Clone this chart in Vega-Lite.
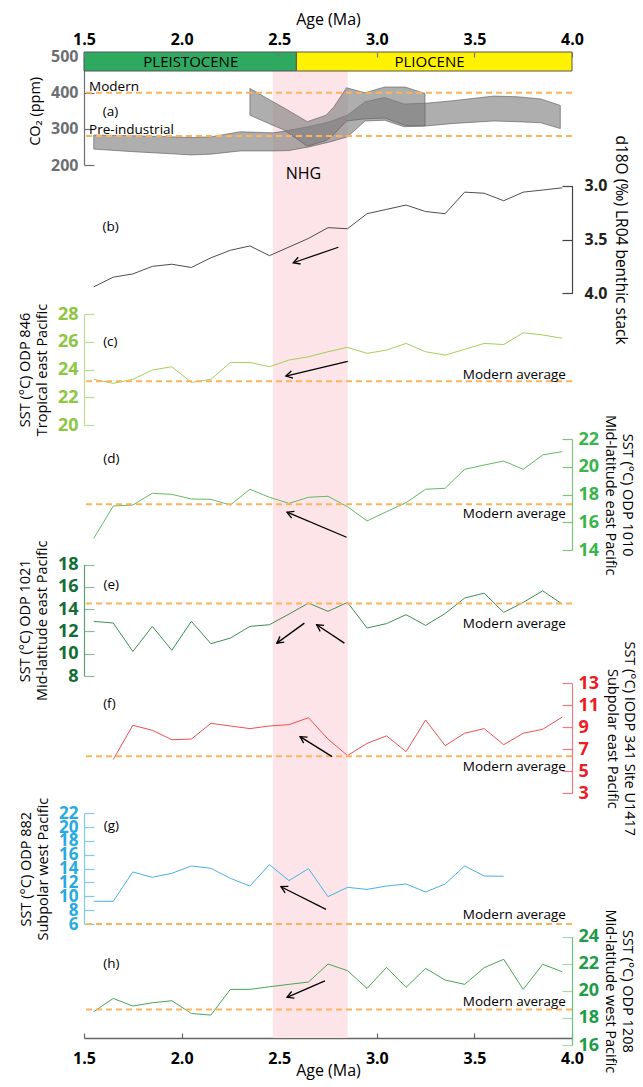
{
"$schema": "https://vega.github.io/schema/vega-lite/v6.json",
"width": 488, "height": 986,
"autosize": {"type": "none"},
"padding": {"left": 84, "top": 52, "right": 71, "bottom": 49},
"config": {"view": {"stroke": null}, "font": "Open Sans",
  "axis": {"grid": false, "labelOverlap": false, "labelFlush": false, "labelBound": false, "titleFontWeight": "normal", "titleColor": "#000", "titleFont": "Open Sans", "labelFont": "Open Sans", "labelFontWeight": "bold", "titleFontSize": 14.5, "titleLineHeight": 17, "tickSize": -10, "labelPadding": 16, "titlePadding": 8, "domainWidth": 1.2, "tickWidth": 1.2}},
"datasets": {
 "nhg": [{"start": 2.467, "end": 2.851}],
 "epochs": [{"name": "PLEISTOCENE", "start": 1.5, "end": 2.588, "mid": 2.047, "lo": 0, "hi": 1, "c": 0.5}, {"name": "PLIOCENE", "start": 2.588, "end": 4.0, "mid": 3.27, "lo": 0, "hi": 1, "c": 0.5}],
 "co2A": [{"age":1.55,"lo":244,"hi":283},{"age":1.75,"lo":237,"hi":281},{"age":1.95,"lo":231,"hi":278},{"age":2.05,"lo":228,"hi":276},{"age":2.15,"lo":230,"hi":278},{"age":2.30,"lo":239,"hi":292},{"age":2.47,"lo":239,"hi":289},{"age":2.55,"lo":240,"hi":296},{"age":2.65,"lo":250,"hi":306},{"age":2.76,"lo":264,"hi":320},{"age":2.85,"lo":278,"hi":338},{"age":2.94,"lo":322,"hi":375},{"age":3.04,"lo":324,"hi":387},{"age":3.14,"lo":306,"hi":369},{"age":3.25,"lo":308,"hi":371},{"age":3.39,"lo":315,"hi":378},{"age":3.60,"lo":322,"hi":391},{"age":3.72,"lo":320,"hi":389},{"age":3.84,"lo":317,"hi":383},{"age":3.94,"lo":301,"hi":365}],
 "co2B": [{"age":2.35,"lo":338,"hi":412},{"age":2.45,"lo":314,"hi":381},{"age":2.525,"lo":297,"hi":358},{"age":2.644,"lo":252,"hi":320},{"age":2.74,"lo":268,"hi":338},{"age":2.78,"lo":285,"hi":361},{"age":2.845,"lo":322,"hi":414},{"age":2.94,"lo":328,"hi":400},{"age":3.04,"lo":330,"hi":416},{"age":3.144,"lo":310,"hi":416},{"age":3.247,"lo":308,"hi":398}],
 "d18o": [{"age":1.55,"v":3.94},{"age":1.65,"v":3.85},{"age":1.75,"v":3.82},{"age":1.85,"v":3.75},{"age":1.95,"v":3.73},{"age":2.05,"v":3.76},{"age":2.15,"v":3.67},{"age":2.25,"v":3.60},{"age":2.35,"v":3.56},{"age":2.45,"v":3.65},{"age":2.55,"v":3.57},{"age":2.65,"v":3.49},{"age":2.75,"v":3.39},{"age":2.85,"v":3.40},{"age":2.95,"v":3.26},{"age":3.05,"v":3.22},{"age":3.15,"v":3.18},{"age":3.25,"v":3.24},{"age":3.35,"v":3.26},{"age":3.45,"v":3.06},{"age":3.55,"v":3.07},{"age":3.65,"v":3.14},{"age":3.75,"v":3.06},{"age":3.85,"v":3.04},{"age":3.95,"v":3.02}],
 "c846": [{"age":1.55,"v":23.29},{"age":1.65,"v":23.0},{"age":1.75,"v":23.29},{"age":1.85,"v":23.96},{"age":1.95,"v":24.2},{"age":2.05,"v":23.07},{"age":2.15,"v":23.29},{"age":2.25,"v":24.51},{"age":2.35,"v":24.51},{"age":2.45,"v":24.2},{"age":2.55,"v":24.68},{"age":2.65,"v":24.92},{"age":2.75,"v":25.28},{"age":2.85,"v":25.6},{"age":2.95,"v":25.16},{"age":3.05,"v":25.4},{"age":3.15,"v":25.88},{"age":3.25,"v":25.28},{"age":3.35,"v":25.04},{"age":3.45,"v":25.45},{"age":3.55,"v":25.88},{"age":3.65,"v":25.8},{"age":3.75,"v":26.65},{"age":3.85,"v":26.49},{"age":3.95,"v":26.25}],
 "d1010": [{"age":1.55,"v":14.84},{"age":1.65,"v":17.18},{"age":1.75,"v":17.25},{"age":1.85,"v":18.1},{"age":1.95,"v":18.02},{"age":2.05,"v":17.69},{"age":2.15,"v":17.66},{"age":2.25,"v":17.25},{"age":2.35,"v":18.39},{"age":2.45,"v":17.81},{"age":2.55,"v":17.37},{"age":2.65,"v":17.81},{"age":2.75,"v":17.88},{"age":2.85,"v":17.13},{"age":2.95,"v":16.1},{"age":3.05,"v":16.77},{"age":3.15,"v":17.42},{"age":3.25,"v":18.39},{"age":3.35,"v":18.46},{"age":3.45,"v":19.83},{"age":3.55,"v":20.14},{"age":3.65,"v":20.43},{"age":3.75,"v":19.83},{"age":3.85,"v":20.87},{"age":3.95,"v":21.11}],
 "e1021": [{"age":1.55,"v":12.9},{"age":1.65,"v":12.75},{"age":1.75,"v":10.2},{"age":1.85,"v":12.45},{"age":1.95,"v":10.3},{"age":2.05,"v":12.9},{"age":2.15,"v":10.9},{"age":2.25,"v":11.4},{"age":2.35,"v":12.45},{"age":2.45,"v":12.6},{"age":2.55,"v":13.55},{"age":2.65,"v":14.54},{"age":2.75,"v":13.8},{"age":2.85,"v":14.6},{"age":2.95,"v":12.3},{"age":3.05,"v":12.7},{"age":3.15,"v":13.5},{"age":3.25,"v":12.54},{"age":3.35,"v":13.6},{"age":3.45,"v":14.99},{"age":3.55,"v":15.43},{"age":3.65,"v":13.7},{"age":3.75,"v":14.6},{"age":3.85,"v":15.64},{"age":3.95,"v":14.45}],
 "f1417": [{"age":1.65,"v":6.07},{"age":1.75,"v":9.18},{"age":1.85,"v":8.73},{"age":1.95,"v":7.87},{"age":2.05,"v":7.93},{"age":2.15,"v":9.36},{"age":2.25,"v":9.12},{"age":2.35,"v":8.88},{"age":2.45,"v":9.12},{"age":2.55,"v":9.24},{"age":2.65,"v":9.87},{"age":2.75,"v":7.93},{"age":2.85,"v":6.43},{"age":2.95,"v":7.54},{"age":3.05,"v":8.22},{"age":3.15,"v":6.79},{"age":3.25,"v":9.66},{"age":3.35,"v":7.33},{"age":3.45,"v":8.46},{"age":3.55,"v":8.88},{"age":3.65,"v":7.42},{"age":3.75,"v":8.46},{"age":3.85,"v":8.82},{"age":3.95,"v":9.93}],
 "g882": [{"age":1.55,"v":9.28},{"age":1.65,"v":9.28},{"age":1.75,"v":13.52},{"age":1.85,"v":12.75},{"age":1.95,"v":13.33},{"age":2.05,"v":14.39},{"age":2.15,"v":14.05},{"age":2.25,"v":12.6},{"age":2.35,"v":11.49},{"age":2.45,"v":14.58},{"age":2.55,"v":12.27},{"age":2.65,"v":14.0},{"age":2.75,"v":9.95},{"age":2.85,"v":11.3},{"age":2.95,"v":11.0},{"age":3.05,"v":11.49},{"age":3.15,"v":11.78},{"age":3.25,"v":10.63},{"age":3.35,"v":11.78},{"age":3.45,"v":14.39},{"age":3.55,"v":12.94},{"age":3.65,"v":12.89}],
 "h1208": [{"age":1.55,"v":18.46},{"age":1.65,"v":19.44},{"age":1.75,"v":18.88},{"age":1.85,"v":19.12},{"age":1.95,"v":19.27},{"age":2.05,"v":18.33},{"age":2.15,"v":18.21},{"age":2.25,"v":20.11},{"age":2.35,"v":20.11},{"age":2.45,"v":20.3},{"age":2.55,"v":20.48},{"age":2.65,"v":20.65},{"age":2.75,"v":21.98},{"age":2.85,"v":21.49},{"age":2.95,"v":20.18},{"age":3.05,"v":21.73},{"age":3.15,"v":20.26},{"age":3.25,"v":21.66},{"age":3.35,"v":20.8},{"age":3.45,"v":20.48},{"age":3.55,"v":21.71},{"age":3.65,"v":22.33},{"age":3.75,"v":20.11},{"age":3.85,"v":21.96},{"age":3.95,"v":21.41}],
 "modern": [{"p":"a","v":400},{"p":"a","v":280},{"p":"c","v":23.15},{"p":"d","v":17.3},{"p":"e","v":14.5},{"p":"f","v":6.37},{"p":"g","v":6.0},{"p":"h","v":18.63}],
 "notes": [{"p":"c","age":3.969,"v":23.6,"t":"Modern average"},{"p":"d","age":3.969,"v":16.6,"t":"Modern average"},{"p":"e","age":3.969,"v":12.68,"t":"Modern average"},{"p":"f","age":3.969,"v":5.42,"t":"Modern average"},{"p":"g","age":3.969,"v":7.3,"t":"Modern average"},{"p":"h","age":3.969,"v":19.2,"t":"Modern average"}],
 "tags": [{"p":"a","age":1.636,"v":347,"t":"(a)"},{"p":"b","age":1.636,"v":3.387,"t":"(b)"},{"p":"c","age":1.635,"v":26.0,"t":"(c)"},{"p":"d","age":1.64,"v":20.55,"t":"(d)"},{"p":"e","age":1.64,"v":16.12,"t":"(e)"},{"p":"f","age":1.63,"v":11.12,"t":"(f)"},{"p":"g","age":1.64,"v":20.16,"t":"(g)"},{"p":"h","age":1.64,"v":21.98,"t":"(h)"}],
 "co2notes": [{"age":1.526,"v":416,"t":"Modern"},{"age":1.526,"v":296.7,"t":"Pre-industrial"}],
 "arrows": [{"p":"b","x1":2.803,"y1":3.572,"x2":2.572,"y2":3.716,"ang":161},{"p":"c","x1":2.851,"y1":24.59,"x2":2.534,"y2":23.53,"ang":167},{"p":"d","x1":2.845,"y1":14.92,"x2":2.540,"y2":16.73,"ang":203},{"p":"e","x1":2.629,"y1":12.74,"x2":2.488,"y2":10.95,"ang":144},{"p":"e","x1":2.834,"y1":10.95,"x2":2.692,"y2":12.59,"ang":213},{"p":"f","x1":2.771,"y1":6.33,"x2":2.607,"y2":8.15,"ang":212},{"p":"g","x1":2.740,"y1":8.12,"x2":2.509,"y2":11.39,"ang":207},{"p":"h","x1":2.734,"y1":20.73,"x2":2.540,"y2":19.52,"ang":157}]
},
"layer": [
 {"data": {"name": "nhg"}, "mark": {"type": "rect", "color": "#fce4e8"},
  "encoding": {"x": {"field": "start", "type": "quantitative", "scale": {"domain": [1.5, 4], "nice": false, "zero": false},
     "axis": {"orient": "bottom", "values": [1.5, 2, 2.5, 3, 3.5, 4], "format": ".1f", "title": "Age (Ma)", "titleFontSize": 16, "labelFontSize": 16, "labelColor": "#000", "domainColor": "#666", "tickColor": "#666", "domainWidth": 1.5, "tickSize": -5, "labelPadding": 17, "titlePadding": -4}},
   "x2": {"field": "end"}}},
 {"layer": [
   {"data": {"name": "co2A"}, "mark": {"type": "area", "color": "#7c7c7c", "fillOpacity": 0.62, "stroke": "#5e5e5e", "strokeWidth": 0.8, "strokeOpacity": 0.8},
    "encoding": {"x": {"field": "age", "type": "quantitative", "scale": {"domain": [1.5, 4], "nice": false}, "axis": null},
     "y": {"field": "lo", "type": "quantitative", "scale": {"domain": [200, 500], "range": [113, 4.7], "nice": false, "zero": false},
       "axis": {"orient": "left", "values": [200, 300, 400, 500], "format": "d", "title": "CO₂ (ppm)", "labelColor": "#6d6e71", "labelFontSize": 16, "domainColor": "#6d6e71", "tickColor": "#6d6e71"}},
     "y2": {"field": "hi"}}},
   {"data": {"name": "co2B"}, "mark": {"type": "area", "color": "#7c7c7c", "fillOpacity": 0.62, "stroke": "#5e5e5e", "strokeWidth": 0.8, "strokeOpacity": 0.8},
    "encoding": {"x": {"field": "age", "type": "quantitative", "scale": {"domain": [1.5, 4], "nice": false}, "axis": null},
     "y": {"field": "lo", "type": "quantitative", "scale": {"domain": [200, 500], "range": [113, 4.7], "nice": false, "zero": false}},
     "y2": {"field": "hi"}}},
   {"data": {"name": "modern"}, "transform": [{"filter": "datum.p === 'a'"}], "mark": {"type": "rule", "color": "#fbb45c", "strokeWidth": 2, "strokeDash": [6, 4]},
    "encoding": {"y": {"field": "v", "type": "quantitative", "scale": {"domain": [200, 500], "range": [113, 4.7], "nice": false, "zero": false}}}},
   {"data": {"name": "co2notes"}, "mark": {"type": "text", "align": "left", "baseline": "middle", "fontSize": 13.5, "color": "#000"},
    "encoding": {"x": {"field": "age", "type": "quantitative", "scale": {"domain": [1.5, 4], "nice": false}, "axis": null},
     "y": {"field": "v", "type": "quantitative", "scale": {"domain": [200, 500], "range": [113, 4.7], "nice": false, "zero": false}}, "text": {"field": "t"}}},
   {"data": {"name": "tags"}, "transform": [{"filter": "datum.p === 'a'"}], "mark": {"type": "text", "align": "center", "baseline": "middle", "fontSize": 13.5, "color": "#000"},
    "encoding": {"x": {"field": "age", "type": "quantitative", "scale": {"domain": [1.5, 4], "nice": false}, "axis": null},
     "y": {"field": "v", "type": "quantitative", "scale": {"domain": [200, 500], "range": [113, 4.7], "nice": false, "zero": false}}, "text": {"field": "t"}}},
   {"data": {"values": [{"age": 2.624, "v": 175, "t": "NHG"}]}, "mark": {"type": "text", "align": "center", "baseline": "middle", "fontSize": 16, "color": "#000"},
    "encoding": {"x": {"field": "age", "type": "quantitative", "scale": {"domain": [1.5, 4], "nice": false}, "axis": null},
     "y": {"field": "v", "type": "quantitative", "scale": {"domain": [200, 500], "range": [113, 4.7], "nice": false, "zero": false}}, "text": {"field": "t"}}}
 ]},
 {"layer": [
   {"data": {"name": "d18o"}, "mark": {"type": "line", "color": "#3a3a3a", "strokeWidth": 0.9},
    "encoding": {"x": {"field": "age", "type": "quantitative", "scale": {"domain": [1.5, 4], "nice": false}, "axis": null},
     "y": {"field": "v", "type": "quantitative", "scale": {"domain": [3, 4], "range": [133.7, 241.3], "nice": false, "zero": false},
       "axis": {"orient": "right", "values": [3, 3.5, 4], "format": ".1f", "title": "d18O (‰) LR04 benthic stack", "titleFontSize": 15.5, "labelColor": "#231f20", "labelFontSize": 16, "domainColor": "#444", "tickColor": "#444", "labelPadding": 22, "titlePadding": 6}}}},
   {"data": {"name": "tags"}, "transform": [{"filter": "datum.p === 'b'"}], "mark": {"type": "text", "align": "center", "baseline": "middle", "fontSize": 13.5, "color": "#000"},
    "encoding": {"x": {"field": "age", "type": "quantitative", "scale": {"domain": [1.5, 4], "nice": false}, "axis": null},
     "y": {"field": "v", "type": "quantitative", "scale": {"domain": [3, 4], "range": [133.7, 241.3], "nice": false, "zero": false}}, "text": {"field": "t"}}},
   {"data": {"name": "arrows"}, "transform": [{"filter": "datum.p === 'b'"}], "mark": {"type": "rule", "color": "#000", "strokeWidth": 1.3},
    "encoding": {"x": {"field": "x1", "type": "quantitative", "scale": {"domain": [1.5, 4], "nice": false}, "axis": null},
     "y": {"field": "y1", "type": "quantitative", "scale": {"domain": [3, 4], "range": [133.7, 241.3], "nice": false, "zero": false}}, "x2": {"field": "x2"}, "y2": {"field": "y2"}}},
   {"data": {"name": "arrows"}, "transform": [{"filter": "datum.p === 'b'"}], "mark": {"type": "point", "shape": "M-1,-0.55L0,0L-1,0.55", "filled": false, "stroke": "#000", "strokeWidth": 1.3, "size": 170, "opacity": 1},
    "encoding": {"x": {"field": "x2", "type": "quantitative", "scale": {"domain": [1.5, 4], "nice": false}, "axis": null},
     "y": {"field": "y2", "type": "quantitative", "scale": {"domain": [3, 4], "range": [133.7, 241.3], "nice": false, "zero": false}}, "angle": {"field": "ang", "type": "quantitative", "scale": null}}}
 ]},
 {"layer": [
   {"data": {"name": "c846"}, "mark": {"type": "line", "color": "#a5cf5b", "strokeWidth": 1},
    "encoding": {"x": {"field": "age", "type": "quantitative", "scale": {"domain": [1.5, 4], "nice": false}, "axis": null},
     "y": {"field": "v", "type": "quantitative", "scale": {"domain": [20, 28], "range": [373, 262], "nice": false, "zero": false},
       "axis": {"orient": "left", "values": [20, 22, 24, 26, 28], "format": "d", "title": ["SST (°C) ODP 846", "Tropical east Pacific"], "labelColor": "#8dc63f", "labelFontSize": 18, "domainColor": "#bcdc8f", "tickColor": "#bcdc8f"}}}},
   {"data": {"name": "modern"}, "transform": [{"filter": "datum.p === 'c'"}], "mark": {"type": "rule", "color": "#fbb45c", "strokeWidth": 2, "strokeDash": [6, 4]},
    "encoding": {"y": {"field": "v", "type": "quantitative", "scale": {"domain": [20, 28], "range": [373, 262], "nice": false, "zero": false}}}},
   {"data": {"name": "notes"}, "transform": [{"filter": "datum.p === 'c'"}], "mark": {"type": "text", "align": "right", "baseline": "middle", "fontSize": 13.5, "color": "#000"},
    "encoding": {"x": {"field": "age", "type": "quantitative", "scale": {"domain": [1.5, 4], "nice": false}, "axis": null},
     "y": {"field": "v", "type": "quantitative", "scale": {"domain": [20, 28], "range": [373, 262], "nice": false, "zero": false}}, "text": {"field": "t"}}},
   {"data": {"name": "tags"}, "transform": [{"filter": "datum.p === 'c'"}], "mark": {"type": "text", "align": "center", "baseline": "middle", "fontSize": 13.5, "color": "#000"},
    "encoding": {"x": {"field": "age", "type": "quantitative", "scale": {"domain": [1.5, 4], "nice": false}, "axis": null},
     "y": {"field": "v", "type": "quantitative", "scale": {"domain": [20, 28], "range": [373, 262], "nice": false, "zero": false}}, "text": {"field": "t"}}},
   {"data": {"name": "arrows"}, "transform": [{"filter": "datum.p === 'c'"}], "mark": {"type": "rule", "color": "#000", "strokeWidth": 1.3},
    "encoding": {"x": {"field": "x1", "type": "quantitative", "scale": {"domain": [1.5, 4], "nice": false}, "axis": null},
     "y": {"field": "y1", "type": "quantitative", "scale": {"domain": [20, 28], "range": [373, 262], "nice": false, "zero": false}}, "x2": {"field": "x2"}, "y2": {"field": "y2"}}},
   {"data": {"name": "arrows"}, "transform": [{"filter": "datum.p === 'c'"}], "mark": {"type": "point", "shape": "M-1,-0.55L0,0L-1,0.55", "filled": false, "stroke": "#000", "strokeWidth": 1.3, "size": 170, "opacity": 1},
    "encoding": {"x": {"field": "x2", "type": "quantitative", "scale": {"domain": [1.5, 4], "nice": false}, "axis": null},
     "y": {"field": "y2", "type": "quantitative", "scale": {"domain": [20, 28], "range": [373, 262], "nice": false, "zero": false}}, "angle": {"field": "ang", "type": "quantitative", "scale": null}}}
 ]},
 {"layer": [
   {"data": {"name": "d1010"}, "mark": {"type": "line", "color": "#62bb5f", "strokeWidth": 1},
    "encoding": {"x": {"field": "age", "type": "quantitative", "scale": {"domain": [1.5, 4], "nice": false}, "axis": null},
     "y": {"field": "v", "type": "quantitative", "scale": {"domain": [14, 22], "range": [498, 387.3], "nice": false, "zero": false},
       "axis": {"orient": "right", "values": [14, 16, 18, 20, 22], "format": "d", "title": ["SST (°C) ODP 1010", "Mid-latitude east Pacific"], "labelColor": "#39b54a", "labelFontSize": 18, "domainColor": "#7cc576", "tickColor": "#7cc576", "titlePadding": 4}}}},
   {"data": {"name": "modern"}, "transform": [{"filter": "datum.p === 'd'"}], "mark": {"type": "rule", "color": "#fbb45c", "strokeWidth": 2, "strokeDash": [6, 4]},
    "encoding": {"y": {"field": "v", "type": "quantitative", "scale": {"domain": [14, 22], "range": [498, 387.3], "nice": false, "zero": false}}}},
   {"data": {"name": "notes"}, "transform": [{"filter": "datum.p === 'd'"}], "mark": {"type": "text", "align": "right", "baseline": "middle", "fontSize": 13.5, "color": "#000"},
    "encoding": {"x": {"field": "age", "type": "quantitative", "scale": {"domain": [1.5, 4], "nice": false}, "axis": null},
     "y": {"field": "v", "type": "quantitative", "scale": {"domain": [14, 22], "range": [498, 387.3], "nice": false, "zero": false}}, "text": {"field": "t"}}},
   {"data": {"name": "tags"}, "transform": [{"filter": "datum.p === 'd'"}], "mark": {"type": "text", "align": "center", "baseline": "middle", "fontSize": 13.5, "color": "#000"},
    "encoding": {"x": {"field": "age", "type": "quantitative", "scale": {"domain": [1.5, 4], "nice": false}, "axis": null},
     "y": {"field": "v", "type": "quantitative", "scale": {"domain": [14, 22], "range": [498, 387.3], "nice": false, "zero": false}}, "text": {"field": "t"}}},
   {"data": {"name": "arrows"}, "transform": [{"filter": "datum.p === 'd'"}], "mark": {"type": "rule", "color": "#000", "strokeWidth": 1.3},
    "encoding": {"x": {"field": "x1", "type": "quantitative", "scale": {"domain": [1.5, 4], "nice": false}, "axis": null},
     "y": {"field": "y1", "type": "quantitative", "scale": {"domain": [14, 22], "range": [498, 387.3], "nice": false, "zero": false}}, "x2": {"field": "x2"}, "y2": {"field": "y2"}}},
   {"data": {"name": "arrows"}, "transform": [{"filter": "datum.p === 'd'"}], "mark": {"type": "point", "shape": "M-1,-0.55L0,0L-1,0.55", "filled": false, "stroke": "#000", "strokeWidth": 1.3, "size": 170, "opacity": 1},
    "encoding": {"x": {"field": "x2", "type": "quantitative", "scale": {"domain": [1.5, 4], "nice": false}, "axis": null},
     "y": {"field": "y2", "type": "quantitative", "scale": {"domain": [14, 22], "range": [498, 387.3], "nice": false, "zero": false}}, "angle": {"field": "ang", "type": "quantitative", "scale": null}}}
 ]},
 {"layer": [
   {"data": {"name": "e1021"}, "mark": {"type": "line", "color": "#3f8f55", "strokeWidth": 1},
    "encoding": {"x": {"field": "age", "type": "quantitative", "scale": {"domain": [1.5, 4], "nice": false}, "axis": null},
     "y": {"field": "v", "type": "quantitative", "scale": {"domain": [8, 18], "range": [624, 512.5], "nice": false, "zero": false},
       "axis": {"orient": "left", "values": [8, 10, 12, 14, 16, 18], "format": "d", "title": ["SST (°C) ODP 1021", "Mid-latitude east Pacific"], "labelColor": "#146c37", "labelFontSize": 18, "domainColor": "#5e9e73", "tickColor": "#8cbc9a"}}}},
   {"data": {"name": "modern"}, "transform": [{"filter": "datum.p === 'e'"}], "mark": {"type": "rule", "color": "#fbb45c", "strokeWidth": 2, "strokeDash": [6, 4]},
    "encoding": {"y": {"field": "v", "type": "quantitative", "scale": {"domain": [8, 18], "range": [624, 512.5], "nice": false, "zero": false}}}},
   {"data": {"name": "notes"}, "transform": [{"filter": "datum.p === 'e'"}], "mark": {"type": "text", "align": "right", "baseline": "middle", "fontSize": 13.5, "color": "#000"},
    "encoding": {"x": {"field": "age", "type": "quantitative", "scale": {"domain": [1.5, 4], "nice": false}, "axis": null},
     "y": {"field": "v", "type": "quantitative", "scale": {"domain": [8, 18], "range": [624, 512.5], "nice": false, "zero": false}}, "text": {"field": "t"}}},
   {"data": {"name": "tags"}, "transform": [{"filter": "datum.p === 'e'"}], "mark": {"type": "text", "align": "center", "baseline": "middle", "fontSize": 13.5, "color": "#000"},
    "encoding": {"x": {"field": "age", "type": "quantitative", "scale": {"domain": [1.5, 4], "nice": false}, "axis": null},
     "y": {"field": "v", "type": "quantitative", "scale": {"domain": [8, 18], "range": [624, 512.5], "nice": false, "zero": false}}, "text": {"field": "t"}}},
   {"data": {"name": "arrows"}, "transform": [{"filter": "datum.p === 'e'"}], "mark": {"type": "rule", "color": "#000", "strokeWidth": 1.3},
    "encoding": {"x": {"field": "x1", "type": "quantitative", "scale": {"domain": [1.5, 4], "nice": false}, "axis": null},
     "y": {"field": "y1", "type": "quantitative", "scale": {"domain": [8, 18], "range": [624, 512.5], "nice": false, "zero": false}}, "x2": {"field": "x2"}, "y2": {"field": "y2"}}},
   {"data": {"name": "arrows"}, "transform": [{"filter": "datum.p === 'e'"}], "mark": {"type": "point", "shape": "M-1,-0.55L0,0L-1,0.55", "filled": false, "stroke": "#000", "strokeWidth": 1.3, "size": 170, "opacity": 1},
    "encoding": {"x": {"field": "x2", "type": "quantitative", "scale": {"domain": [1.5, 4], "nice": false}, "axis": null},
     "y": {"field": "y2", "type": "quantitative", "scale": {"domain": [8, 18], "range": [624, 512.5], "nice": false, "zero": false}}, "angle": {"field": "ang", "type": "quantitative", "scale": null}}}
 ]},
 {"layer": [
   {"data": {"name": "f1417"}, "mark": {"type": "line", "color": "#ef4f55", "strokeWidth": 1},
    "encoding": {"x": {"field": "age", "type": "quantitative", "scale": {"domain": [1.5, 4], "nice": false}, "axis": null},
     "y": {"field": "v", "type": "quantitative", "scale": {"domain": [3, 13], "range": [741.3, 631.3], "nice": false, "zero": false},
       "axis": {"orient": "right", "values": [3, 5, 7, 9, 11, 13], "format": "d", "title": ["SST (°C) IODP 341 Site U1417", "Subpolar east Pacific"], "labelColor": "#ed1c24", "labelFontSize": 18, "domainColor": "#f07c7f", "tickColor": "#f07c7f", "titlePadding": 6}}}},
   {"data": {"name": "modern"}, "transform": [{"filter": "datum.p === 'f'"}], "mark": {"type": "rule", "color": "#fbb45c", "strokeWidth": 2, "strokeDash": [6, 4]},
    "encoding": {"y": {"field": "v", "type": "quantitative", "scale": {"domain": [3, 13], "range": [741.3, 631.3], "nice": false, "zero": false}}}},
   {"data": {"name": "notes"}, "transform": [{"filter": "datum.p === 'f'"}], "mark": {"type": "text", "align": "right", "baseline": "middle", "fontSize": 13.5, "color": "#000"},
    "encoding": {"x": {"field": "age", "type": "quantitative", "scale": {"domain": [1.5, 4], "nice": false}, "axis": null},
     "y": {"field": "v", "type": "quantitative", "scale": {"domain": [3, 13], "range": [741.3, 631.3], "nice": false, "zero": false}}, "text": {"field": "t"}}},
   {"data": {"name": "tags"}, "transform": [{"filter": "datum.p === 'f'"}], "mark": {"type": "text", "align": "center", "baseline": "middle", "fontSize": 13.5, "color": "#000"},
    "encoding": {"x": {"field": "age", "type": "quantitative", "scale": {"domain": [1.5, 4], "nice": false}, "axis": null},
     "y": {"field": "v", "type": "quantitative", "scale": {"domain": [3, 13], "range": [741.3, 631.3], "nice": false, "zero": false}}, "text": {"field": "t"}}},
   {"data": {"name": "arrows"}, "transform": [{"filter": "datum.p === 'f'"}], "mark": {"type": "rule", "color": "#000", "strokeWidth": 1.3},
    "encoding": {"x": {"field": "x1", "type": "quantitative", "scale": {"domain": [1.5, 4], "nice": false}, "axis": null},
     "y": {"field": "y1", "type": "quantitative", "scale": {"domain": [3, 13], "range": [741.3, 631.3], "nice": false, "zero": false}}, "x2": {"field": "x2"}, "y2": {"field": "y2"}}},
   {"data": {"name": "arrows"}, "transform": [{"filter": "datum.p === 'f'"}], "mark": {"type": "point", "shape": "M-1,-0.55L0,0L-1,0.55", "filled": false, "stroke": "#000", "strokeWidth": 1.3, "size": 170, "opacity": 1},
    "encoding": {"x": {"field": "x2", "type": "quantitative", "scale": {"domain": [1.5, 4], "nice": false}, "axis": null},
     "y": {"field": "y2", "type": "quantitative", "scale": {"domain": [3, 13], "range": [741.3, 631.3], "nice": false, "zero": false}}, "angle": {"field": "ang", "type": "quantitative", "scale": null}}}
 ]},
 {"layer": [
   {"data": {"name": "g882"}, "mark": {"type": "line", "color": "#45b3e7", "strokeWidth": 1},
    "encoding": {"x": {"field": "age", "type": "quantitative", "scale": {"domain": [1.5, 4], "nice": false}, "axis": null},
     "y": {"field": "v", "type": "quantitative", "scale": {"domain": [6, 22], "range": [872, 761.3], "nice": false, "zero": false},
       "axis": {"orient": "left", "values": [6, 8, 10, 12, 14, 16, 18, 20, 22], "format": "d", "title": ["SST (°C) ODP 882", "Subpolar west Pacific"], "labelColor": "#27aae1", "labelFontSize": 17, "domainColor": "#7ccbee", "tickColor": "#7ccbee"}}}},
   {"data": {"name": "modern"}, "transform": [{"filter": "datum.p === 'g'"}], "mark": {"type": "rule", "color": "#fbb45c", "strokeWidth": 2, "strokeDash": [6, 4]},
    "encoding": {"y": {"field": "v", "type": "quantitative", "scale": {"domain": [6, 22], "range": [872, 761.3], "nice": false, "zero": false}}}},
   {"data": {"name": "notes"}, "transform": [{"filter": "datum.p === 'g'"}], "mark": {"type": "text", "align": "right", "baseline": "middle", "fontSize": 13.5, "color": "#000"},
    "encoding": {"x": {"field": "age", "type": "quantitative", "scale": {"domain": [1.5, 4], "nice": false}, "axis": null},
     "y": {"field": "v", "type": "quantitative", "scale": {"domain": [6, 22], "range": [872, 761.3], "nice": false, "zero": false}}, "text": {"field": "t"}}},
   {"data": {"name": "tags"}, "transform": [{"filter": "datum.p === 'g'"}], "mark": {"type": "text", "align": "center", "baseline": "middle", "fontSize": 13.5, "color": "#000"},
    "encoding": {"x": {"field": "age", "type": "quantitative", "scale": {"domain": [1.5, 4], "nice": false}, "axis": null},
     "y": {"field": "v", "type": "quantitative", "scale": {"domain": [6, 22], "range": [872, 761.3], "nice": false, "zero": false}}, "text": {"field": "t"}}},
   {"data": {"name": "arrows"}, "transform": [{"filter": "datum.p === 'g'"}], "mark": {"type": "rule", "color": "#000", "strokeWidth": 1.3},
    "encoding": {"x": {"field": "x1", "type": "quantitative", "scale": {"domain": [1.5, 4], "nice": false}, "axis": null},
     "y": {"field": "y1", "type": "quantitative", "scale": {"domain": [6, 22], "range": [872, 761.3], "nice": false, "zero": false}}, "x2": {"field": "x2"}, "y2": {"field": "y2"}}},
   {"data": {"name": "arrows"}, "transform": [{"filter": "datum.p === 'g'"}], "mark": {"type": "point", "shape": "M-1,-0.55L0,0L-1,0.55", "filled": false, "stroke": "#000", "strokeWidth": 1.3, "size": 170, "opacity": 1},
    "encoding": {"x": {"field": "x2", "type": "quantitative", "scale": {"domain": [1.5, 4], "nice": false}, "axis": null},
     "y": {"field": "y2", "type": "quantitative", "scale": {"domain": [6, 22], "range": [872, 761.3], "nice": false, "zero": false}}, "angle": {"field": "ang", "type": "quantitative", "scale": null}}}
 ]},
 {"layer": [
   {"data": {"name": "h1208"}, "mark": {"type": "line", "color": "#45a853", "strokeWidth": 1},
    "encoding": {"x": {"field": "age", "type": "quantitative", "scale": {"domain": [1.5, 4], "nice": false}, "axis": null},
     "y": {"field": "v", "type": "quantitative", "scale": {"domain": [16, 24], "range": [993, 884.7], "nice": false, "zero": false},
       "axis": {"orient": "right", "values": [16, 18, 20, 22, 24], "format": "d", "title": ["SST (°C) ODP 1208", "Mid-latitude west Pacific"], "labelColor": "#1e9c48", "labelFontSize": 18, "domainColor": "#6cbf7d", "tickColor": "#a6d9b0", "titlePadding": 4}}}},
   {"data": {"name": "modern"}, "transform": [{"filter": "datum.p === 'h'"}], "mark": {"type": "rule", "color": "#fbb45c", "strokeWidth": 2, "strokeDash": [6, 4]},
    "encoding": {"y": {"field": "v", "type": "quantitative", "scale": {"domain": [16, 24], "range": [993, 884.7], "nice": false, "zero": false}}}},
   {"data": {"name": "notes"}, "transform": [{"filter": "datum.p === 'h'"}], "mark": {"type": "text", "align": "right", "baseline": "middle", "fontSize": 13.5, "color": "#000"},
    "encoding": {"x": {"field": "age", "type": "quantitative", "scale": {"domain": [1.5, 4], "nice": false}, "axis": null},
     "y": {"field": "v", "type": "quantitative", "scale": {"domain": [16, 24], "range": [993, 884.7], "nice": false, "zero": false}}, "text": {"field": "t"}}},
   {"data": {"name": "tags"}, "transform": [{"filter": "datum.p === 'h'"}], "mark": {"type": "text", "align": "center", "baseline": "middle", "fontSize": 13.5, "color": "#000"},
    "encoding": {"x": {"field": "age", "type": "quantitative", "scale": {"domain": [1.5, 4], "nice": false}, "axis": null},
     "y": {"field": "v", "type": "quantitative", "scale": {"domain": [16, 24], "range": [993, 884.7], "nice": false, "zero": false}}, "text": {"field": "t"}}},
   {"data": {"name": "arrows"}, "transform": [{"filter": "datum.p === 'h'"}], "mark": {"type": "rule", "color": "#000", "strokeWidth": 1.3},
    "encoding": {"x": {"field": "x1", "type": "quantitative", "scale": {"domain": [1.5, 4], "nice": false}, "axis": null},
     "y": {"field": "y1", "type": "quantitative", "scale": {"domain": [16, 24], "range": [993, 884.7], "nice": false, "zero": false}}, "x2": {"field": "x2"}, "y2": {"field": "y2"}}},
   {"data": {"name": "arrows"}, "transform": [{"filter": "datum.p === 'h'"}], "mark": {"type": "point", "shape": "M-1,-0.55L0,0L-1,0.55", "filled": false, "stroke": "#000", "strokeWidth": 1.3, "size": 170, "opacity": 1},
    "encoding": {"x": {"field": "x2", "type": "quantitative", "scale": {"domain": [1.5, 4], "nice": false}, "axis": null},
     "y": {"field": "y2", "type": "quantitative", "scale": {"domain": [16, 24], "range": [993, 884.7], "nice": false, "zero": false}}, "angle": {"field": "ang", "type": "quantitative", "scale": null}}}
 ]},
 {"layer": [
   {"data": {"name": "epochs"}, "mark": {"type": "rect", "stroke": "#555", "strokeWidth": 1},
    "encoding": {"x": {"field": "start", "type": "quantitative", "scale": {"domain": [1.5, 4], "nice": false},
       "axis": {"orient": "top", "values": [1.5, 2, 2.5, 3, 3.5, 4], "format": ".1f", "title": "Age (Ma)", "titleFontSize": 16, "labelFontSize": 16, "labelColor": "#000", "domain": false, "tickColor": "#777", "tickSize": -5, "labelPadding": 10, "titlePadding": 4, "zindex": 1}},
     "x2": {"field": "end"},
     "y": {"field": "lo", "type": "quantitative", "scale": {"domain": [0, 1], "range": [19, 0], "nice": false, "zero": false}, "axis": null},
     "y2": {"field": "hi"},
     "color": {"field": "name", "type": "nominal", "scale": {"domain": ["PLEISTOCENE", "PLIOCENE"], "range": ["#2eaa60", "#fff200"]}, "legend": null}}},
   {"data": {"name": "epochs"}, "mark": {"type": "text", "align": "center", "baseline": "middle", "fontSize": 15, "color": "#000"},
    "encoding": {"x": {"field": "mid", "type": "quantitative", "scale": {"domain": [1.5, 4], "nice": false}},
     "y": {"field": "c", "type": "quantitative", "scale": {"domain": [0, 1], "range": [19, 0], "nice": false, "zero": false}, "axis": null},
     "text": {"field": "name"}}}
 ]}
],
"resolve": {"scale": {"y": "independent"}, "axis": {"x": "independent", "y": "independent"}}
}
